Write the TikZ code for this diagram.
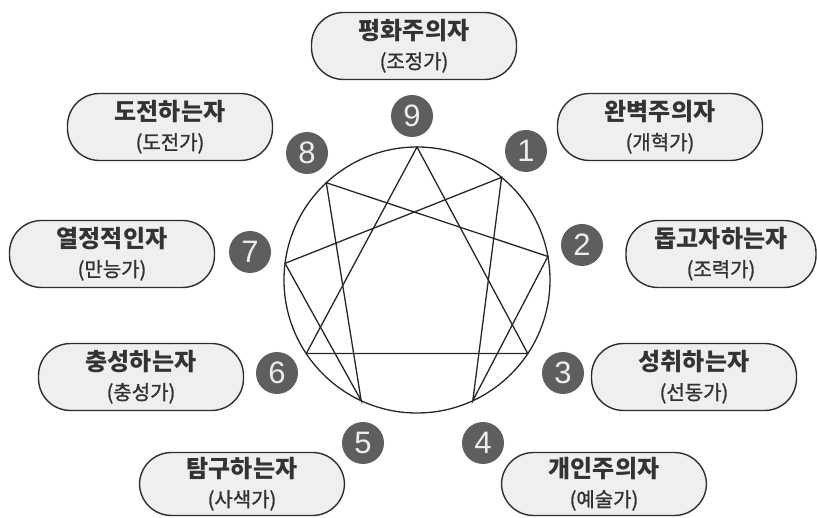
\documentclass[tikz,border=0pt]{standalone}
\usepackage{fontspec}
\usetikzlibrary{calc}
\newfontfamily\kr{Noto Sans CJK KR}
\newfontfamily\krtwo[FakeBold=1.2]{Noto Sans CJK KR}
\newfontfamily\numfont{Liberation Sans}
\definecolor{boxfill}{HTML}{EFEFEF}
\definecolor{boxline}{HTML}{2E2E2E}
\definecolor{badgecol}{HTML}{5E5E5E}
\definecolor{badgetext}{HTML}{EDEDED}
\definecolor{txtcol}{HTML}{333333}
\newcommand\twoline[2]{{\fontsize{24}{29}\selectfont\bfseries #1}\\{\krtwo #2}}
\tikzset{
  typebox/.style={draw=boxline, line width=1.4pt, fill=boxfill, rounded corners=32pt,
    minimum width=205pt, minimum height=67pt, inner sep=0pt, align=center,
    text=txtcol, font=\kr\fontsize{20}{29}\selectfont},
  badgenode/.style={circle, fill=badgecol, minimum size=42pt, inner sep=0pt,
    text=badgetext, font=\numfont\fontsize{31}{31}\selectfont},
  enn/.style={line width=1.3pt, draw=black!85, line join=miter}
}
\begin{document}
\begin{tikzpicture}[x=1pt,y=-1pt]
\useasboundingbox (0,0) rectangle (817,518);
% enneagram
\coordinate (c) at (417,280);
\draw[enn] (c) circle[radius=133pt];
\coordinate (p9) at ($(c)+(90:133pt)$);
\coordinate (p1) at ($(c)+(50.5:133pt)$);
\coordinate (p2) at ($(c)+(10.2:133pt)$);
\coordinate (p3) at ($(c)+(-33.6:133pt)$);
\coordinate (p4) at ($(c)+(-65.2:133pt)$);
\coordinate (p5) at ($(c)+(-114.8:133pt)$);
\coordinate (p6) at ($(c)+(-146.4:133pt)$);
\coordinate (p7) at ($(c)+(172.8:133pt)$);
\coordinate (p8) at ($(c)+(133:133pt)$);
\draw[enn] (p9) -- (p3) -- (p6) -- cycle;
\draw[enn] (p1) -- (p4) -- (p2) -- (p8) -- (p5) -- (p7) -- cycle;
% badges
\node[badgenode] (b9) at (412,116) {9};
\node[badgenode] (b8) at (307,153) {8};
\node[badgenode] (b1) at (526,151) {1};
\node[badgenode] (b2) at (582,245) {2};
\node[badgenode] (b7) at (250,252) {7};
\node[badgenode] (b6) at (277,373) {6};
\node[badgenode] (b3) at (563,373) {3};
\node[badgenode] (b5) at (363,443) {5};
\node[badgenode] (b4) at (483,443) {4};
% type labels
\node[typebox] (t9) at (414,46) {\twoline{평화주의자}{(조정가)}};
\node[typebox] (t8) at (170,127) {\twoline{도전하는자}{(도전가)}};
\node[typebox] (t1) at (660,127) {\twoline{완벽주의자}{(개혁가)}};
\node[typebox] (t7) at (112,254) {\twoline{열정적인자}{(만능가)}};
\node[typebox, minimum width=190pt] (t2) at (721,254) {\twoline{돕고자하는자}{(조력가)}};
\node[typebox] (t6) at (141,377) {\twoline{충성하는자}{(충성가)}};
\node[typebox] (t3) at (694,377) {\twoline{성취하는자}{(선동가)}};
\node[typebox, minimum height=63pt] (t5) at (242,484) {\twoline{탐구하는자}{(사색가)}};
\node[typebox, minimum height=63pt] (t4) at (604,484) {\twoline{개인주의자}{(예술가)}};
\end{tikzpicture}
\end{document}
